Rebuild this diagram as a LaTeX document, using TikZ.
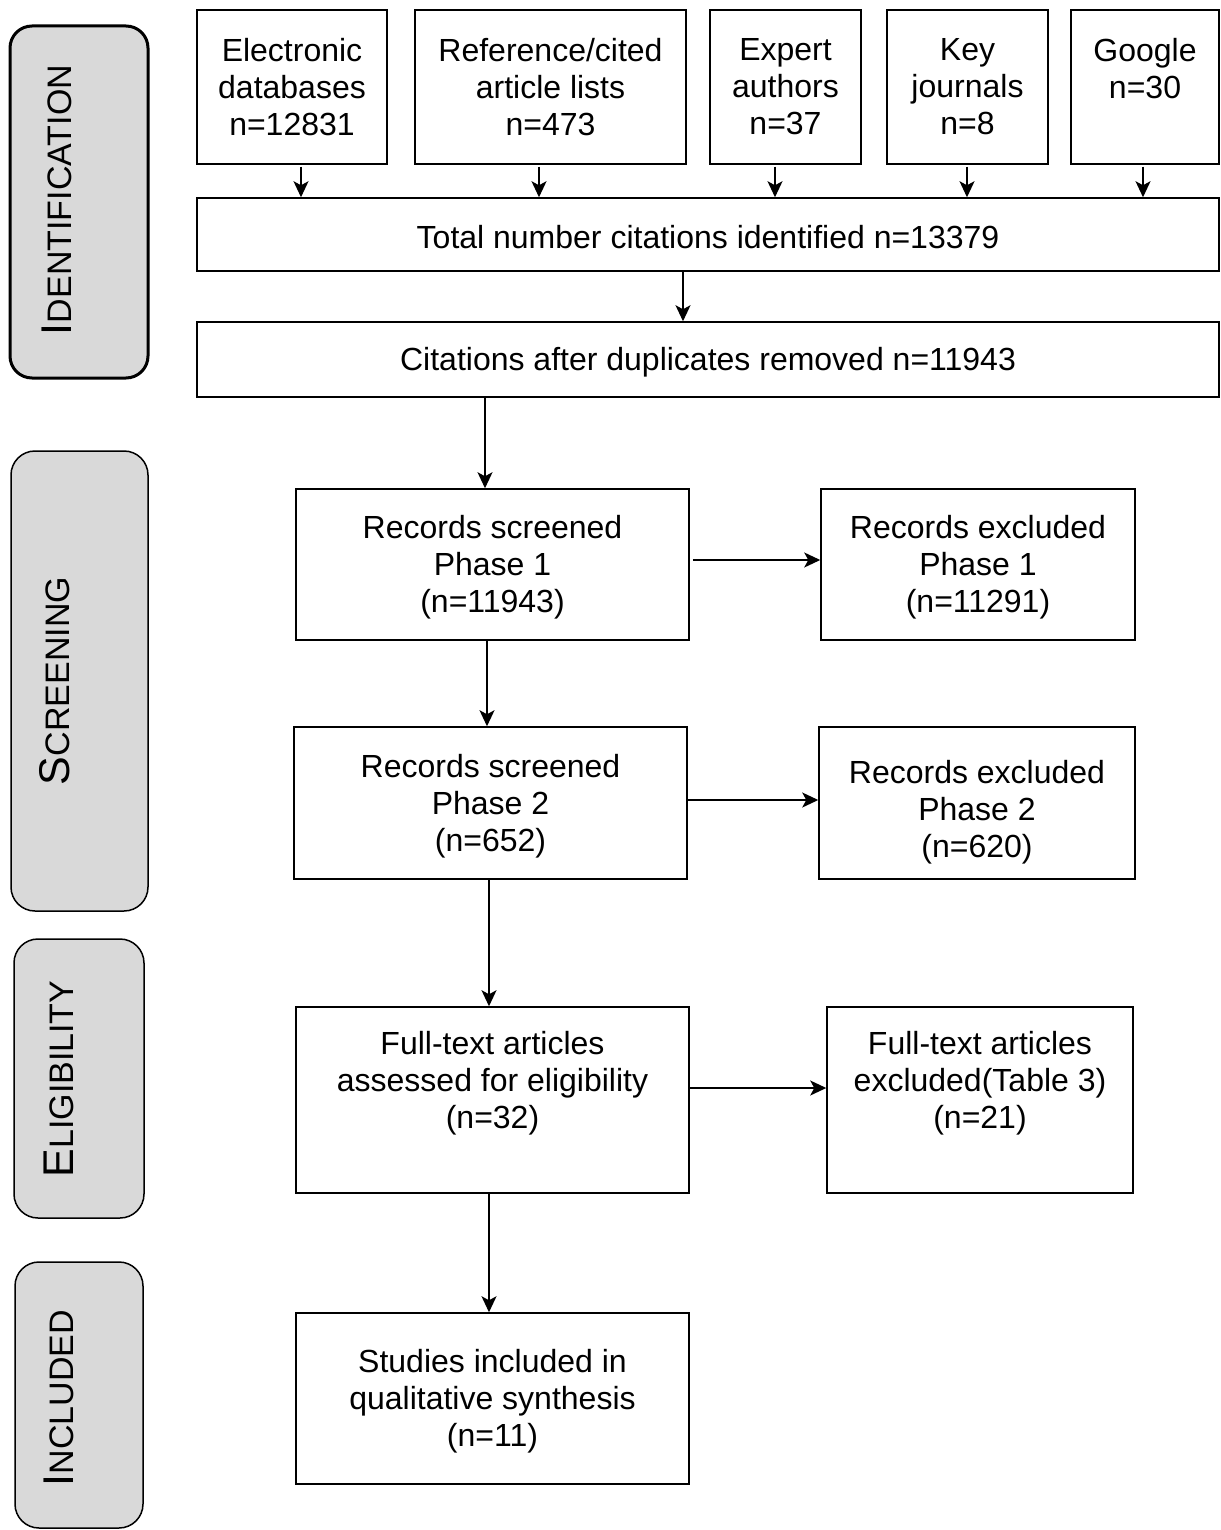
\documentclass[tikz,border=0pt]{standalone}
\usepackage{fontspec}
\setmainfont{Liberation Sans}
\usetikzlibrary{arrows.meta}
\definecolor{phasegray}{HTML}{D9D9D9}
\begin{document}
\begin{tikzpicture}[x=1pt,y=-1pt,
  box/.style={draw, line width=1.5pt, inner sep=0pt},
  boxtext/.style={align=center, inner sep=0pt, font=\fontsize{32}{37}\selectfont},
  arr/.style={line width=1.5pt, -{Stealth[length=16pt,width=15pt,inset=4pt]}},
  phase/.style={draw, line width=1.5pt, fill=phasegray, rounded corners=24pt},
  phasetext/.style={rotate=90, anchor=base, inner sep=0pt}]
\useasboundingbox (0,0) rectangle (1220,1530);
\newcommand{\phasename}[2]{{\fontsize{43}{43}\selectfont #1}{\fontsize{34}{34}\selectfont #2}}
% #1 name, #2 x, #3 y, #4 width, #5 height, #6 text shift (down), #7 text
\newcommand{\flowbox}[7]{%
  \node[box, minimum width=#4, minimum height=#5] (#1) at (#2,#3) {};
  \node[boxtext] (#1t) at ([yshift=-#6pt]#1.center) {#7};}
% phase labels
\draw[phase, line width=3pt, rounded corners=22pt] (10,26) rectangle (148,378);
\node[phasetext] (pid) at (71,200) {\phasename{I}{DENTIFICATION}};
\draw[phase] (11,451) rectangle (148,911);
\node[phasetext] (psc) at (69,681) {\phasename{S}{CREENING}};
\draw[phase] (14,939) rectangle (144,1218);
\node[phasetext] (pel) at (73,1079) {\phasename{E}{LIGIBILITY}};
\draw[phase] (15,1262) rectangle (143,1528);
\node[phasetext] (pin) at (73,1398) {\phasename{I}{NCLUDED}};
% source boxes
\flowbox{s1}{292}{87}{190}{154}{0}{Electronic\\databases\\n=12831}
\flowbox{s2}{550.5}{87}{271}{154}{0}{Reference/cited\\article lists\\n=473}
\flowbox{s3}{785.5}{87}{151}{154}{0}{Expert\\authors\\n=37}
\flowbox{s4}{967.5}{87}{161}{154}{0}{Key\\journals\\n=8}
\flowbox{s5}{1145}{87}{148}{154}{-18.5}{Google\\n=30}
% totals
\flowbox{tot}{708}{234.5}{1022}{73}{3}{Total number citations identified n=13379}
\flowbox{dup}{708}{359.5}{1022}{75}{3}{Citations after duplicates removed n=11943}
% screening
\flowbox{rs1}{492.5}{564.5}{393}{151}{3}{Records screened\\Phase 1\\(n=11943)}
\flowbox{re1}{978}{564.5}{314}{151}{3}{Records excluded\\Phase 1\\(n=11291)}
\flowbox{rs2}{490.5}{803}{393}{152}{3}{Records screened\\Phase 2\\(n=652)}
\flowbox{re2}{977}{803}{316}{152}{9}{Records excluded\\Phase 2\\(n=620)}
% eligibility
\flowbox{fa}{492.5}{1100}{393}{186}{-17}{Full-text articles\\assessed for eligibility\\(n=32)}
\flowbox{fe}{980}{1100}{306}{186}{-17}{Full-text articles\\excluded(Table 3)\\(n=21)}
% included
\flowbox{si}{492.5}{1398.5}{393}{171}{3}{Studies included in\\qualitative synthesis\\(n=11)}
% arrows from sources
\draw[arr] ([yshift=-2pt]s1.south -| 301,0) -- (301,0 |- tot.north);
\draw[arr] ([yshift=-2pt]s2.south -| 539,0) -- (539,0 |- tot.north);
\draw[arr] ([yshift=-2pt]s3.south -| 775,0) -- (775,0 |- tot.north);
\draw[arr] ([yshift=-2pt]s4.south -| 967,0) -- (967,0 |- tot.north);
\draw[arr] ([yshift=-2pt]s5.south -| 1143,0) -- (1143,0 |- tot.north);
% main flow
\draw[arr] (tot.south -| 683,0) -- (683,0 |- dup.north);
\draw[arr] (dup.south -| 485,0) -- (485,0 |- rs1.north);
\draw[arr] (rs1.south -| 487,0) -- (487,0 |- rs2.north);
\draw[arr] (rs2.south -| 489,0) -- (489,0 |- fa.north);
\draw[arr] (fa.south -| 489,0) -- (489,0 |- si.north);
% exclusions
\draw[arr] ([xshift=3pt]rs1.east |- 0,560) -- (re1.west |- 0,560);
\draw[arr] (rs2.east |- 0,800) -- (re2.west |- 0,800);
\draw[arr] (fa.east |- 0,1088) -- (fe.west |- 0,1088);
\end{tikzpicture}
\end{document}
